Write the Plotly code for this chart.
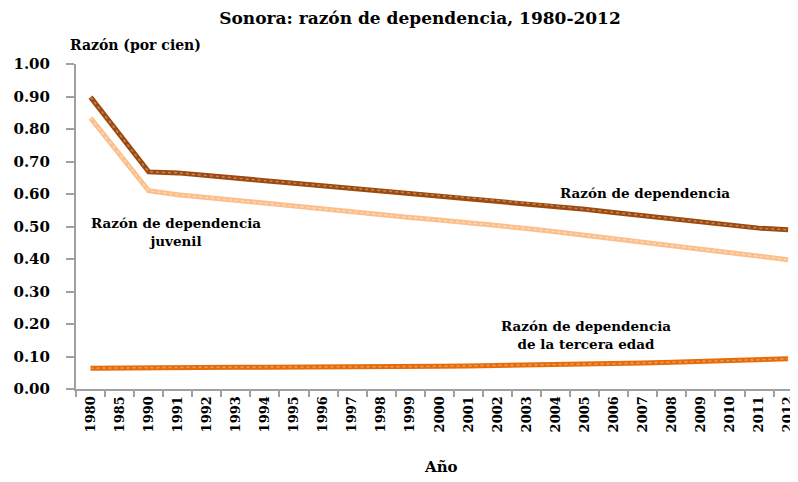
import plotly.graph_objects as go

years = ["1980", "1985", "1990", "1991", "1992", "1993", "1994", "1995", "1996", "1997",
         "1998", "1999", "2000", "2001", "2002", "2003", "2004", "2005", "2006", "2007",
         "2008", "2009", "2010", "2011", "2012"]

dependencia = [0.898, 0.783, 0.668, 0.665, 0.658, 0.649, 0.641, 0.633, 0.625, 0.617,
               0.610, 0.602, 0.595, 0.588, 0.580, 0.571, 0.563, 0.553, 0.543, 0.533,
               0.523, 0.513, 0.503, 0.495, 0.490]

juvenil = [0.834, 0.722, 0.610, 0.598, 0.589, 0.579, 0.570, 0.561, 0.552, 0.544,
           0.536, 0.528, 0.520, 0.512, 0.503, 0.494, 0.484, 0.474, 0.463, 0.452,
           0.441, 0.430, 0.419, 0.408, 0.398]

tercera = [0.064, 0.065, 0.067, 0.067, 0.067, 0.067, 0.067, 0.067, 0.068, 0.068,
           0.069, 0.069, 0.070, 0.071, 0.072, 0.073, 0.075, 0.076, 0.078, 0.080,
           0.082, 0.084, 0.087, 0.090, 0.093]

y_ticks = [0.0, 0.1, 0.2, 0.3, 0.4, 0.5, 0.6, 0.7, 0.8, 0.9, 1.0]
y_labels = [f"{v:.2f}" for v in y_ticks]

FONT = "DejaVu Serif"
C_DEP = "#9B4A12"
C_JUV = "#FBBF8C"
C_TER = "#E46C0A"

# page has an 8px body margin; work in page pixels and convert
OX, OY = 8, 8
W, H = 798 - OX, 482 - OY
PL, PR, PT, PB = 76, 798, 64, 389  # plot area in page pixels

fig = go.Figure()
for vals, col, over in [(juvenil, C_JUV, "#FDD9B8"),
                        (dependencia, C_DEP, "#C98550"),
                        (tercera, C_TER, "#F29A55")]:
    fig.add_trace(go.Scatter(x=years, y=vals, mode="lines",
                             line=dict(color=col, width=5), showlegend=False,
                             hoverinfo="skip"))
    fig.add_trace(go.Scatter(x=years, y=vals, mode="lines",
                             line=dict(color=over, width=1.5, dash="dot"),
                             showlegend=False, hoverinfo="skip"))

fig.update_layout(
    width=W, height=H,
    margin=dict(l=PL - OX, r=798 - PR, t=PT - OY, b=482 - PB),
    paper_bgcolor="white", plot_bgcolor="white",
    font=dict(family=FONT, color="black"),
    title=dict(text="<b>Sonora: razón de dependencia, 1980-2012</b>",
               x=(420 - OX) / W, xanchor="center", y=1 - (18 - OY) / H, yanchor="middle",
               font=dict(family=FONT, size=17, color="black")),
    xaxis=dict(
        type="category", categoryorder="array", categoryarray=years,
        range=[-0.5, 24.34],
        tickmode="array", tickvals=years, ticktext=[f"<b>{y}</b>" for y in years],
        tickangle=-90, tickfont=dict(family=FONT, size=13, color="black"),
        tickson="boundaries", ticks="outside", ticklen=6, tickcolor="#A0A0A0", tickwidth=2,
        showline=True, linecolor="#A0A0A0", linewidth=2,
        showgrid=False, zeroline=False, ticklabeloverflow="allow",
    ),
    yaxis=dict(
        range=[0, 1.0], tickmode="array", tickvals=y_ticks,
        ticktext=[f"<b>{t}</b>" for t in y_labels],
        tickfont=dict(family=FONT, size=15, color="black"),
        ticks="outside", ticklen=8, tickcolor="#A0A0A0", tickwidth=2,
        showline=True, linecolor="#A0A0A0", linewidth=2,
        showgrid=False, zeroline=False, ticklabelstandoff=13,
    ),
)


def px2paper(px, py):
    return (px - PL) / (PR - PL), (PB - py) / (PB - PT)


annots = [
    ("<b>Razón (por cien)</b>", 68, 45, "left", 14),
    ("<b>Razón de dependencia</b>", 645, 193, "center", 13.5),
    ("<b>Razón de dependencia<br>juvenil</b>", 176, 232, "center", 13.5),
    ("<b>Razón de dependencia<br>de la tercera edad</b>", 586, 335, "center", 13.5),
    ("<b>Año</b>", 441, 467, "center", 15),
]
for text, px, py, anchor, size in annots:
    ax, ay = px2paper(px, py)
    fig.add_annotation(text=text, x=ax, y=ay, xref="paper", yref="paper",
                       xanchor=anchor, yanchor="middle", showarrow=False, align="center",
                       font=dict(family=FONT, size=size, color="black"))

fig.write_html("out.html")
